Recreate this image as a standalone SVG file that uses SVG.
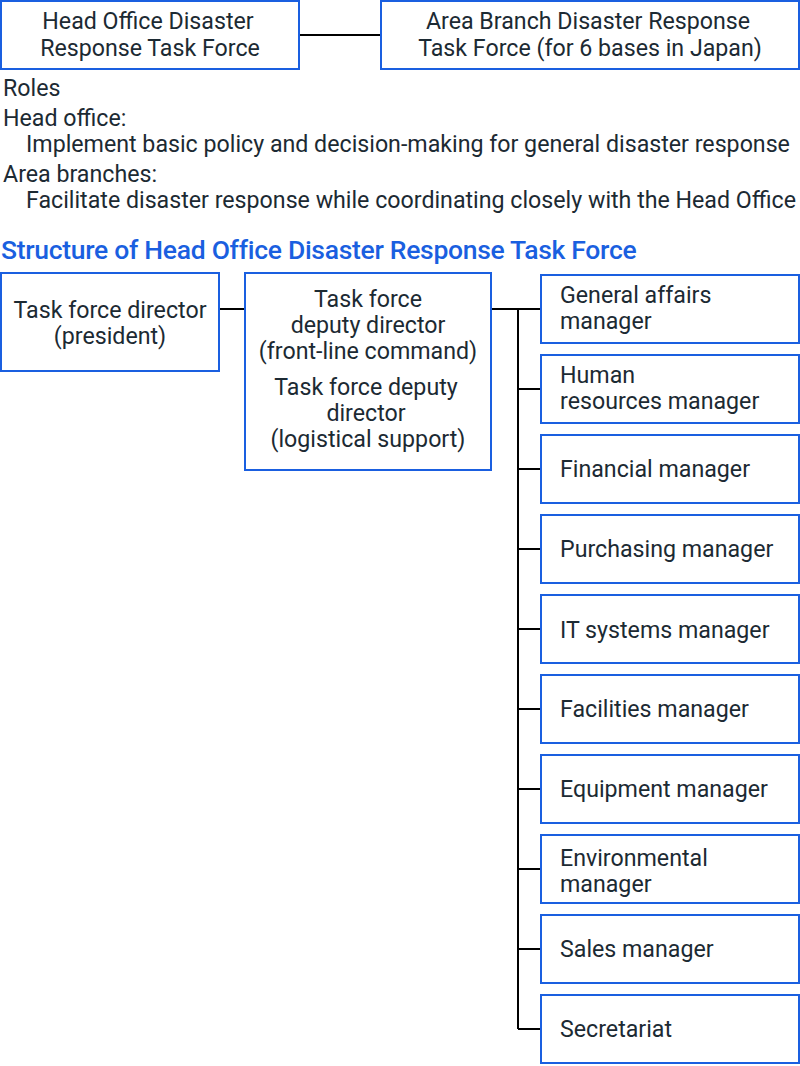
<svg xmlns="http://www.w3.org/2000/svg" width="800" height="1066" viewBox="0 0 800 1066">
<style>
rect{fill:#fff;stroke:#1a5fe0;stroke-width:2}
text{font-family:Roboto,"Liberation Sans",sans-serif;font-size:23.2px;fill:#1c2a33}
.c{text-anchor:middle}
.h{fill:#1a5fe0;font-weight:500;font-size:26.5px;letter-spacing:-0.3px}
#connectors path{stroke:#000;stroke-width:2;fill:none}
</style>
<g id="connectors">
<path d="M299 35H381M219 309H245M491 309H518V1029M518 309H541M518 389H541M518 469H541M518 549H541M518 629H541M518 709H541M518 789H541M518 869H541M518 949H541M518 1029H541"/>
</g>
<g id="hq"><rect x="1" y="1" width="298" height="68"/><text class="c" x="148" y="29">Head Office Disaster</text><text class="c" x="150" y="56">Response Task Force</text></g>
<g id="area"><rect x="381" y="1" width="418" height="68"/><text class="c" x="588" y="29">Area Branch Disaster Response</text><text class="c" x="590" y="56">Task Force (for 6 bases in Japan)</text></g>
<g id="roles">
<text x="3" y="96">Roles</text>
<text x="3" y="126">Head office:</text>
<text x="26" y="152">Implement basic policy and decision-making for general disaster response</text>
<text x="3" y="182">Area branches:</text>
<text x="26" y="208">Facilitate disaster response while coordinating closely with the Head Office</text>
</g>
<text class="h" x="1" y="259">Structure of Head Office Disaster Response Task Force</text>
<g id="director"><rect x="1" y="273" width="218" height="98"/><text class="c" x="110" y="318">Task force director</text><text class="c" x="110" y="344">(president)</text></g>
<g id="deputy"><rect x="245" y="273" width="246" height="197"/>
<text class="c" x="368" y="307">Task force</text><text class="c" x="368" y="333">deputy director</text><text class="c" x="368" y="359">(front-line command)</text>
<text class="c" x="366" y="395">Task force deputy</text><text class="c" x="366" y="421">director</text><text class="c" x="368" y="447">(logistical support)</text></g>
<g id="m1"><rect x="541" y="275" width="258" height="68"/><text x="560" y="303">General affairs</text><text x="560" y="329">manager</text></g>
<g id="m2"><rect x="541" y="355" width="258" height="68"/><text x="560" y="383">Human</text><text x="560" y="409">resources manager</text></g>
<g id="m3"><rect x="541" y="435" width="258" height="68"/><text x="560" y="477">Financial manager</text></g>
<g id="m4"><rect x="541" y="515" width="258" height="68"/><text x="560" y="557">Purchasing manager</text></g>
<g id="m5"><rect x="541" y="595" width="258" height="68"/><text x="560" y="638">IT systems manager</text></g>
<g id="m6"><rect x="541" y="675" width="258" height="68"/><text x="560" y="717">Facilities manager</text></g>
<g id="m7"><rect x="541" y="755" width="258" height="68"/><text x="560" y="797">Equipment manager</text></g>
<g id="m8"><rect x="541" y="835" width="258" height="68"/><text x="560" y="866">Environmental</text><text x="560" y="892">manager</text></g>
<g id="m9"><rect x="541" y="915" width="258" height="68"/><text x="560" y="957">Sales manager</text></g>
<g id="m10"><rect x="541" y="995" width="258" height="68"/><text x="560" y="1037">Secretariat</text></g>
</svg>
